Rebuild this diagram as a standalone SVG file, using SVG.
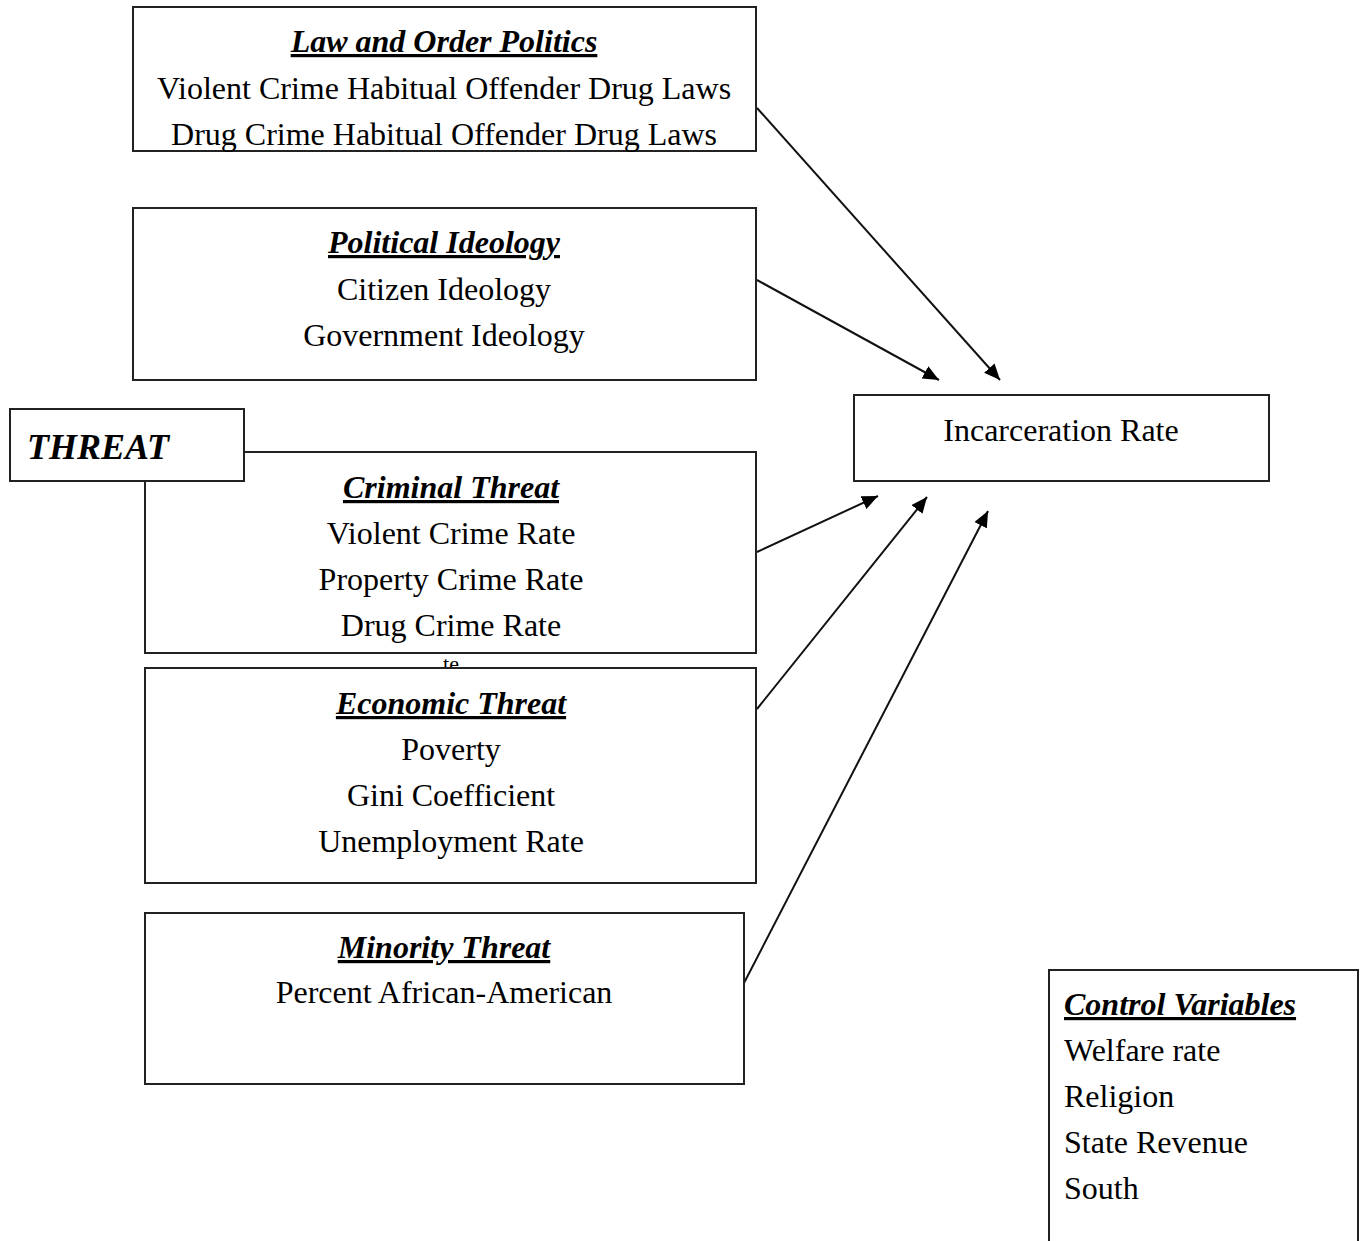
<svg xmlns="http://www.w3.org/2000/svg" width="1361" height="1241" viewBox="0 0 1361 1241">
<style>
.box{fill:#fff;stroke:#222;stroke-width:2}
.t{font-family:"Liberation Serif","Times New Roman",serif;font-size:32px;fill:#000}
.c{text-anchor:middle}
.h{font-weight:bold;font-style:italic;text-decoration:underline}
.edge{stroke:#111;stroke-width:2;fill:none;marker-end:url(#ah)}
</style>
<defs>
<marker id="ah" markerUnits="userSpaceOnUse" markerWidth="18" markerHeight="14" refX="16" refY="7" orient="auto">
<path d="M0,0 L16,7 L0,14 Z" fill="#000"/>
</marker>
</defs>
<rect width="1361" height="1241" fill="#fff"/>
<g id="connectors">
<line class="edge" x1="757" y1="108" x2="1000" y2="380"/>
<line class="edge" x1="757" y1="280" x2="939" y2="380"/>
<line class="edge" x1="757" y1="552" x2="878" y2="496"/>
<line class="edge" x1="757" y1="709" x2="927" y2="497"/>
<line class="edge" x1="744" y1="983" x2="988" y2="511"/>
</g>
<g id="law-order">
<rect class="box" x="133" y="7" width="623" height="144"/>
<text class="t c h" x="444" y="52">Law and Order Politics</text>
<text class="t c" x="444" y="99">Violent Crime Habitual Offender Drug Laws</text>
<text class="t c" x="444" y="145">Drug Crime Habitual Offender Drug Laws</text>
</g>
<g id="political-ideology">
<rect class="box" x="133" y="208" width="623" height="172"/>
<text class="t c h" x="444" y="253">Political Ideology</text>
<text class="t c" x="444" y="300">Citizen Ideology</text>
<text class="t c" x="444" y="346">Government Ideology</text>
</g>
<g id="criminal-threat">
<rect class="box" x="145" y="452" width="611" height="201"/>
<text class="t c h" x="451" y="498">Criminal Threat</text>
<text class="t c" x="451" y="544">Violent Crime Rate</text>
<text class="t c" x="451" y="590">Property Crime Rate</text>
<text class="t c" x="451" y="636">Drug Crime Rate</text>
</g>
<g id="stray-te">
<text class="t c" x="451" y="671" style="font-size:22px">te</text>
</g>
<g id="threat">
<rect class="box" x="10" y="409" width="234" height="72"/>
<text class="t" x="27" y="459" style="font-size:36px;font-weight:bold;font-style:italic">THREAT</text>
</g>
<g id="economic-threat">
<rect class="box" x="145" y="668" width="611" height="215"/>
<text class="t c h" x="451" y="714">Economic Threat</text>
<text class="t c" x="451" y="760">Poverty</text>
<text class="t c" x="451" y="806">Gini Coefficient</text>
<text class="t c" x="451" y="852">Unemployment Rate</text>
</g>
<g id="minority-threat">
<rect class="box" x="145" y="913" width="599" height="171"/>
<text class="t c h" x="444" y="958">Minority Threat</text>
<text class="t c" x="444" y="1003">Percent African-American</text>
</g>
<g id="incarceration-rate">
<rect class="box" x="854" y="395" width="415" height="86"/>
<text class="t c" x="1061" y="441">Incarceration Rate</text>
</g>
<g id="control-variables">
<rect class="box" x="1049" y="970" width="309" height="290"/>
<text class="t h" x="1064" y="1015">Control Variables</text>
<text class="t" x="1064" y="1061">Welfare rate</text>
<text class="t" x="1064" y="1107">Religion</text>
<text class="t" x="1064" y="1153">State Revenue</text>
<text class="t" x="1064" y="1199">South</text>
</g>
</svg>
